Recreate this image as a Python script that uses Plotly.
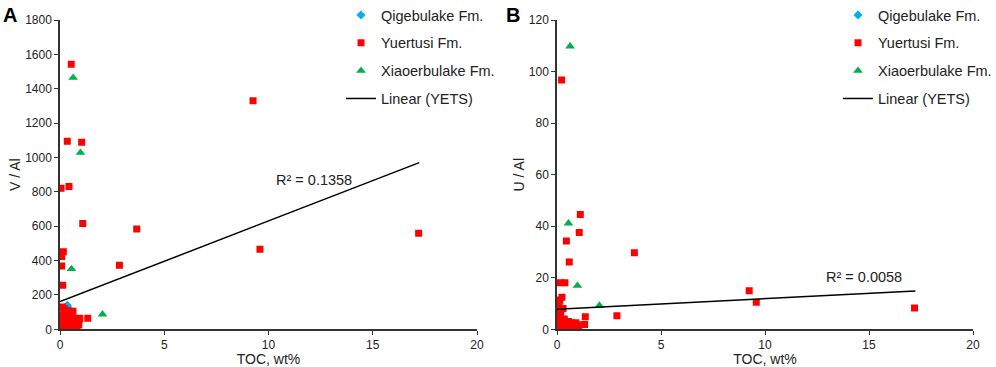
import plotly.graph_objects as go

# ---------------- Panel A: V/Al vs TOC ----------------
a_qige_toc = [0.25, 0.30, 0.35, 0.40, 0.45, 0.50, 0.28, 0.38]
a_qige_val = [115, 130, 140, 125, 110, 100, 95, 85]

a_yuer_toc = [0.54, 0.35, 1.04, 0.05, 0.43, 1.09, 3.68, 0.16, 0.08, 0.08, 2.85, 0.13,
              1.33, 0.93, 9.26, 9.59, 17.20,
              0.02, 0.05, 0.08, 0.10, 0.12, 0.15, 0.18, 0.20, 0.22, 0.25, 0.28, 0.30,
              0.33, 0.35, 0.38, 0.40, 0.42, 0.45, 0.48, 0.50, 0.55, 0.60, 0.62, 0.65,
              0.70, 0.75, 0.80, 0.85, 0.90, 0.95, 0.05, 0.15, 0.30, 0.60, 0.02, 0.10]
a_yuer_val = [1543, 1095, 1089, 821, 831, 615, 584, 452, 423, 369, 373, 256,
              64, 64, 1330, 466, 559,
              10, 30, 55, 80, 20, 45, 100, 120, 65, 35, 10, 85,
              110, 50, 25, 70, 95, 15, 40, 60, 30, 80, 105, 45,
              20, 55, 10, 35, 25, 60, 5, 8, 5, 5, 70, 130]

a_xiao_toc = [0.55, 0.63, 0.98, 2.04]
a_xiao_val = [351, 1464, 1028, 87]

a_fit_intercept = 161
a_fit_slope = 46.95
a_r2 = "R² = 0.1358"

# ---------------- Panel B: U/Al vs TOC ----------------
b_qige_toc = [0.25, 0.30, 0.35, 0.40, 0.50, 0.28]
b_qige_val = [2.0, 3.0, 1.5, 2.5, 2.0, 1.0]

b_yuer_toc = [0.22, 1.12, 1.07, 0.45, 3.72, 0.59, 0.16, 0.38, 0.24, 0.13, 0.29, 1.36,
              2.88, 1.33, 9.24, 9.58, 17.19,
              0.02, 0.05, 0.08, 0.10, 0.12, 0.15, 0.18, 0.20, 0.25, 0.30, 0.35, 0.40,
              0.45, 0.50, 0.55, 0.60, 0.65, 0.70, 0.75, 0.80, 0.85, 0.90, 0.95, 1.00,
              1.05, 0.05, 0.10, 0.15, 0.30, 0.60]
b_yuer_val = [96.7, 44.5, 37.6, 34.3, 29.7, 26.1, 18.1, 18.1, 12.4, 11.4, 8.1, 4.9,
              5.3, 1.9, 15.0, 10.5, 8.3,
              1.0, 3.0, 5.0, 7.0, 2.0, 4.0, 6.0, 1.0, 3.0, 2.0, 4.0, 1.0,
              2.5, 1.5, 3.0, 2.0, 1.0, 2.5, 1.5, 2.0, 1.0, 2.5, 1.0, 1.8,
              0.8, 8.5, 9.5, 0.5, 0.8, 0.5]

b_xiao_toc = [0.55, 0.63, 0.98, 2.04]
b_xiao_val = [41.1, 109.8, 16.9, 9.2]

b_fit_intercept = 7.75
b_fit_slope = 0.413
b_r2 = "R² = 0.0058"

fit_x = [0, 17.23]

names = ["Qigebulake Fm.", "Yuertusi Fm.", "Xiaoerbulake Fm.", "Linear (YETS)"]
colors = {"q": "#00B0F0", "y": "#FF0000", "x": "#00B050"}

FONT = "Liberation Sans, Arial, sans-serif"
TXT = "#222222"
AX = "#333333"

fig = go.Figure()

panels = [
    ("x", "y", "legend", a_qige_toc, a_qige_val, a_yuer_toc, a_yuer_val,
     a_xiao_toc, a_xiao_val, a_fit_intercept, a_fit_slope),
    ("x2", "y2", "legend2", b_qige_toc, b_qige_val, b_yuer_toc, b_yuer_val,
     b_xiao_toc, b_xiao_val, b_fit_intercept, b_fit_slope),
]

for (xa, ya, lg, qx, qy, yx, yy, xx, xy, b0, b1) in panels:
    fig.add_trace(go.Scatter(x=qx, y=qy, mode="markers", name=names[0],
                             marker=dict(symbol="diamond", size=7, color=colors["q"]),
                             xaxis=xa, yaxis=ya, legend=lg, legendgroup=lg + "q"))
    fig.add_trace(go.Scatter(x=yx, y=yy, mode="markers", name=names[1],
                             marker=dict(symbol="square", size=7, color=colors["y"]),
                             xaxis=xa, yaxis=ya, legend=lg, legendgroup=lg + "y"))
    fig.add_trace(go.Scatter(x=xx, y=xy, mode="markers", name=names[2],
                             marker=dict(symbol="triangle-up", size=8.5, color=colors["x"]),
                             xaxis=xa, yaxis=ya, legend=lg, legendgroup=lg + "x"))
    fig.add_trace(go.Scatter(x=fit_x, y=[b0 + b1 * v for v in fit_x], mode="lines",
                             name=names[3], line=dict(color="black", width=1.5),
                             xaxis=xa, yaxis=ya, legend=lg, legendgroup=lg + "l"))

W, H = 996, 367
ydom = [(H - 329.3) / H, (H - 20) / H]

axis_common = dict(showgrid=False, zeroline=False, showline=True, linecolor=AX,
                   linewidth=1.5, ticks="outside", ticklen=4, tickcolor=AX, tickwidth=1.2,
                   tickfont=dict(family=FONT, size=12, color=TXT), automargin=False)

legend_common = dict(font=dict(family=FONT, size=14.5, color=TXT), bgcolor="rgba(0,0,0,0)",
                     traceorder="grouped", tracegroupgap=6, xanchor="left", yanchor="top")

fig.update_layout(
    width=W, height=H,
    margin=dict(l=0, r=0, t=0, b=0, autoexpand=False),
    paper_bgcolor="white", plot_bgcolor="white",
    showlegend=True,
    xaxis=dict(domain=[60 / W, 477 / W], range=[0, 20], dtick=5, anchor="y",
               title=dict(text="TOC, wt%", font=dict(family=FONT, size=14, color=TXT), standoff=0),
               **axis_common),
    yaxis=dict(domain=ydom, range=[0, 1800], dtick=200, anchor="x",
               title=dict(text="V / Al", font=dict(family=FONT, size=14, color=TXT), standoff=1),
               **axis_common),
    xaxis2=dict(domain=[557 / W, 973 / W], range=[0, 20], dtick=5, anchor="y2",
                title=dict(text="TOC, wt%", font=dict(family=FONT, size=14, color=TXT), standoff=0),
                **axis_common),
    yaxis2=dict(domain=ydom, range=[0, 120], dtick=20, anchor="x2",
                title=dict(text="U / Al", font=dict(family=FONT, size=14, color=TXT), standoff=1),
                **axis_common),
    legend=dict(x=341 / W, y=1 + 1 / H, **legend_common),
    legend2=dict(x=838 / W, y=1 + 1 / H, **legend_common),
    annotations=[
        dict(text="<b>A</b>", x=1 / W, y=1 - 2 / H, xref="paper", yref="paper", xanchor="left",
             yanchor="top", showarrow=False, font=dict(family=FONT, size=20, color="black")),
        dict(text="<b>B</b>", x=504 / W, y=1 - 2 / H, xref="paper", yref="paper", xanchor="left",
             yanchor="top", showarrow=False, font=dict(family=FONT, size=20, color="black")),
        dict(text=a_r2, x=12.18, y=869, xref="x", yref="y", showarrow=False,
             font=dict(family=FONT, size=14.5, color=TXT)),
        dict(text=b_r2, x=14.77, y=20.2, xref="x2", yref="y2", showarrow=False,
             font=dict(family=FONT, size=14.5, color=TXT)),
    ],
)

fig.write_html("out.html", config={"displayModeBar": False},
               post_script="document.body.style.margin='0';document.body.style.overflow='hidden';")
